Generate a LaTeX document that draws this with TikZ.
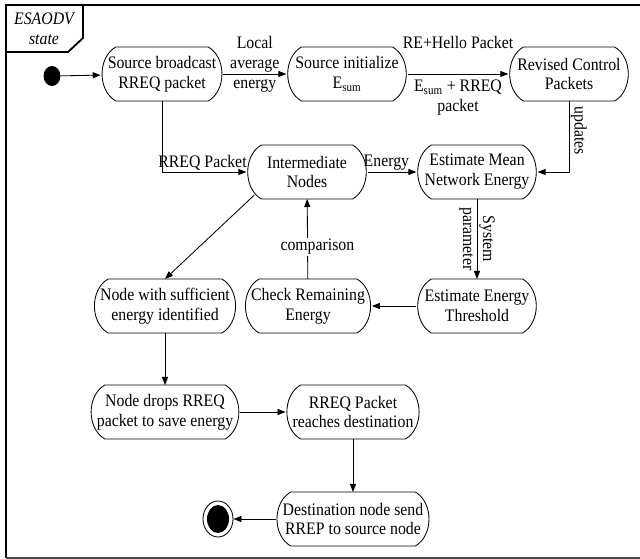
\documentclass[tikz,border=0pt]{standalone}
\usepackage{fontspec}
\setmainfont{Liberation Serif}[FakeStretch=0.9]
\usetikzlibrary{arrows.meta, positioning, calc, shapes.geometric}

\tikzset{
  act/.style={rectangle, align=center, minimum height=1.35cm, minimum width=3.03cm,
    inner xsep=5pt, outer sep=0pt, font=\fontsize{12.5}{14.2}\selectfont},
  lbl/.style={align=center, inner sep=1pt, font=\fontsize{12.5}{14.2}\selectfont},
  flow/.style={line width=0.6pt, -{Triangle[length=0.2cm, width=0.15cm]}}
}

\begin{document}
\begin{tikzpicture}[x=0.025cm, y=-0.025cm]
  \useasboundingbox (0,0) rectangle (640,559);
  % frame
  \draw[line width=1.5pt] (6,558) -- (6,5) -- (640,5);
  \draw[line width=0.8pt, black!70] (6,558) -- (640,558);
  \draw[line width=1.3pt] (6,5) -- (83,5) -- (83,38) -- (68,52) -- (6,52);
  \node[lbl, font=\fontsize{12.5}{14.2}\selectfont\itshape] (title) at (44,29) {ESAODV\\state};

  % start and end
  \node[fill, ellipse, minimum width=0.42cm, minimum height=0.5cm, inner sep=0pt] (start) at (52,76) {};
  \node[draw, ellipse, line width=0.6pt, minimum width=0.75cm, minimum height=0.9cm, inner sep=0pt] (stop) at (218,519) {};
  \node[fill, ellipse, minimum width=0.55cm, minimum height=0.7cm, inner sep=0pt] (stopdot) at (218,519) {};

  % activities
  \node[act] (bcast) at (162,74) {Source broadcast\\RREQ packet};
  \node[act] (initsum) at (347,74) {Source initialize\\E\textsubscript{sum}};
  \node[act] (revised) at (569,74) {Revised Control\\Packets};
  \node[act] (inter) at (307,172) {Intermediate\\Nodes};
  \node[act] (mean) at (477,172) {Estimate Mean\\Network Energy};
  \node[act] (thresh) at (477,306) {Estimate Energy\\Threshold};
  \node[act] (check) at (308,306) {Check Remaining\\Energy};
  \node[act] (suff) at (165,306) {Node with sufficient\\energy identified};
  \node[act] (drop) at (165,412) {Node drops RREQ\\packet to save energy};
  \node[act] (reach) at (353,412) {RREQ Packet\\reaches destination};
  \node[act] (dest) at (353,519) {Destination node send\\RREP to source node};

  % rounded outlines
  \foreach \n in {bcast, initsum, revised, inter, mean, thresh, check, suff, drop, reach, dest}
    \draw[line width=0.6pt] ($(\n.north west)+(15,0)$) -- ($(\n.north east)+(-15,0)$)
      to[bend left=60] ($(\n.south east)+(-15,0)$) -- ($(\n.south west)+(15,0)$)
      to[bend left=60] cycle;

  % transitions
  \draw[flow] (start) -- (bcast);
  \draw[flow] (bcast) -- node[lbl, yshift=7] {Local\\average\\energy} (initsum);
  \draw[flow] (initsum) -- node[lbl, above=17pt] {RE+Hello Packet}
    node[lbl, below=3pt] {E\textsubscript{sum} + RREQ\\packet} (revised);
  \draw[flow] (bcast.south) |- node[lbl, pos=0.74, above] {RREQ Packet} (inter.west);
  \draw[flow] (inter) -- node[lbl, above, xshift=-4] {Energy} (mean);
  \draw[flow] (revised.south) |- node[lbl, pos=0.21, rotate=-90, anchor=south] {updates} (mean.east);
  \draw[flow] (mean) -- node[lbl, rotate=-90] {System\\parameter} (thresh);
  \draw[flow] (thresh) -- (check);
  \draw[flow] (check) -- node[lbl, pos=0.4, fill=white, xshift=7] {comparison} (inter);
  \draw[flow] ($(inter.south west)+(8,-4)$) -- (suff.north);
  \draw[flow] (suff) -- (drop);
  \draw[flow] (drop) -- (reach);
  \draw[flow] (reach) -- (dest);
  \draw[flow] (dest) -- (stop);
\end{tikzpicture}
\end{document}
